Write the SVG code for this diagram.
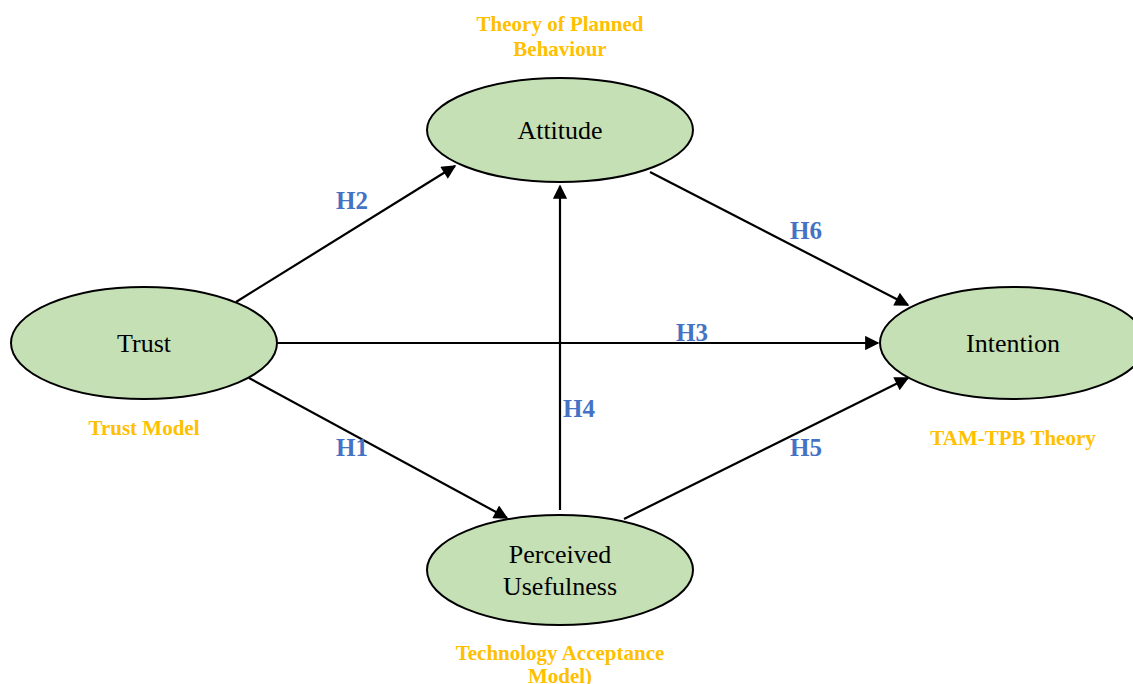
<svg xmlns="http://www.w3.org/2000/svg" width="1133" height="684" viewBox="0 0 1133 684">
<style>
.node{fill:#C5E0B4;stroke:#000;stroke-width:2}
.nt{font-family:"Liberation Serif",serif;font-size:26px;fill:#000;text-anchor:middle}
.hl{font-family:"Liberation Serif",serif;font-size:25px;font-weight:bold;fill:#4472C4;text-anchor:middle}
.th{font-family:"Liberation Serif",serif;font-size:21px;font-weight:bold;fill:#FFC000;text-anchor:middle}
.edge{stroke:#000;stroke-width:2.2;fill:none;marker-end:url(#ah)}
</style>
<defs>
<marker id="ah" viewBox="0 0 10 10" refX="9" refY="5" markerWidth="8" markerHeight="6.5" orient="auto" markerUnits="strokeWidth">
<path d="M0,0 L10,5 L0,10 z" fill="#000"/>
</marker>
</defs>
<rect width="1133" height="684" fill="#fff"/>
<g id="connectors">
<line class="edge" x1="236" y1="302" x2="455" y2="166"/>
<line class="edge" x1="277" y1="343" x2="878" y2="343"/>
<line class="edge" x1="249" y1="378" x2="507" y2="518"/>
<line class="edge" x1="560" y1="510" x2="560" y2="186"/>
<line class="edge" x1="650" y1="172" x2="908" y2="305"/>
<line class="edge" x1="624" y1="519" x2="908" y2="378"/>
</g>
<g id="attitude">
<ellipse class="node" cx="560" cy="130" rx="133" ry="52"/>
<text class="nt" x="560" y="139">Attitude</text>
</g>
<g id="trust">
<ellipse class="node" cx="144" cy="343" rx="133" ry="56"/>
<text class="nt" x="144" y="352">Trust</text>
</g>
<g id="intention">
<ellipse class="node" cx="1013" cy="343" rx="133" ry="56"/>
<text class="nt" x="1013" y="352">Intention</text>
</g>
<g id="usefulness">
<ellipse class="node" cx="560" cy="570" rx="133" ry="55"/>
<text class="nt" x="560" y="563">Perceived</text>
<text class="nt" x="560" y="595">Usefulness</text>
</g>
<g id="labels">
<text class="hl" x="352" y="209">H2</text>
<text class="hl" x="806" y="239">H6</text>
<text class="hl" x="692" y="341">H3</text>
<text class="hl" x="579" y="417">H4</text>
<text class="hl" x="352" y="456">H1</text>
<text class="hl" x="806" y="456">H5</text>
</g>
<g id="theories">
<text class="th" x="560" y="31">Theory of Planned</text>
<text class="th" x="560" y="56">Behaviour</text>
<text class="th" x="144" y="435">Trust Model</text>
<text class="th" x="1013" y="445">TAM-TPB Theory</text>
<text class="th" x="560" y="660">Technology Acceptance</text>
<text class="th" x="560" y="683">Model)</text>
</g>
</svg>
